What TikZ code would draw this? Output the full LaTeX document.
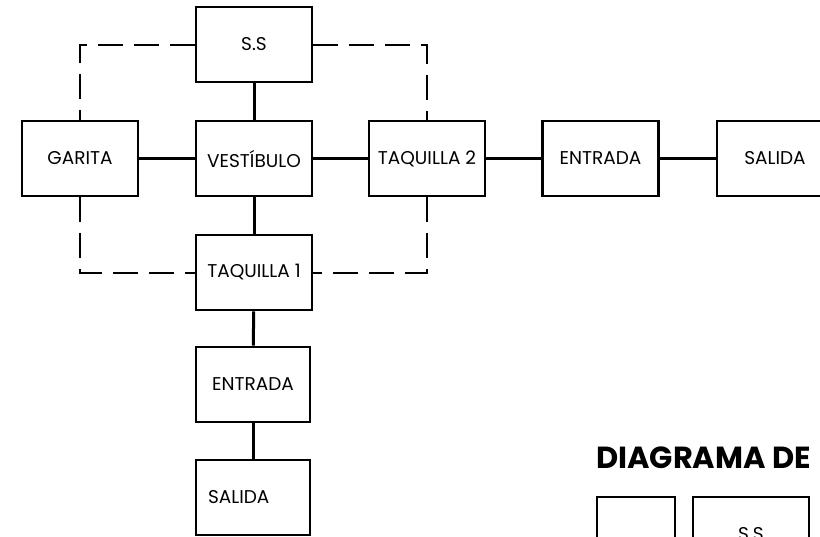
\documentclass[tikz,border=0pt]{standalone}
\usepackage{fontspec}
\setmainfont{Poppins}
\begin{document}
\begin{tikzpicture}[x=1pt,y=-1pt,
  room/.style={draw,black,line width=2.6pt,minimum width=116pt,minimum height=75pt,inner sep=0pt,font=\fontsize{18.5}{22}\selectfont},
  link/.style={black,line width=3pt},
  loose/.style={black,line width=2pt,dash pattern=on 25pt off 11pt}]
  \useasboundingbox (0,0) rectangle (820,536);
  \clip (0,0) rectangle (820,536);

  % Rooms
  \node[room] (ss) at (254,44.5) {S.S};
  \node[room] (garita) at (80,158.5) {GARITA};
  \node[room] (vestibulo) at (254,158.5) {VESTÍBULO};
  \node[room] (taq2) at (427,158.5) {TAQUILLA 2};
  \node[room] (entradaR) at (600.5,158.5) {ENTRADA};
  \node[room] (salidaR) at (775,158.5) {SALIDA};
  \node[room] (taq1) at (254,272.5) {TAQUILLA 1};
  \node[room,minimum width=114pt] (entradaB) at (253,384.5) {ENTRADA};
  \node[room,minimum width=114pt,text width=90pt,align=left] (salidaB) at (253,497.5) {SALIDA};

  % Links
  \draw[link] (ss) -- (vestibulo);
  \draw[link] (garita) -- (vestibulo);
  \draw[link] (vestibulo) -- (taq2);
  \draw[link] (taq2) -- (entradaR);
  \draw[link] (entradaR) -- (salidaR);
  \draw[link] (vestibulo) -- (taq1);
  \draw[link] (taq1) -- (entradaB);
  \draw[link] (entradaB) -- (salidaB);

  % Dashed ring
  \draw[loose] (ss.west) -| (garita.north);
  \draw[loose] (garita.south) |- (taq1.west);
  \draw[loose] (ss.east) -| (taq2.north);
  \draw[loose] (taq2.south) |- (taq1.east);

  % Title
  \node[anchor=base west,inner sep=0pt,font=\fontsize{30.5}{34}\selectfont\bfseries] (title) at (596,468) {DIAGRAMA DE};
  \node[room,minimum width=78pt] (boxA) at (636,534.5) {};
  \node[room] (boxB) at (751,534.5) {S.S};

\end{tikzpicture}
\end{document}
